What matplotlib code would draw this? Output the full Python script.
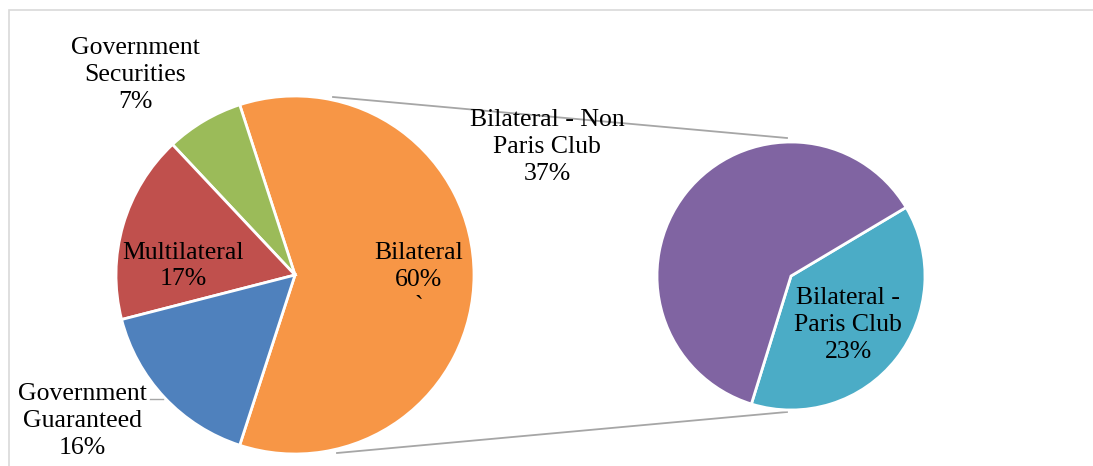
import matplotlib.pyplot as plt
from matplotlib.patches import Rectangle

# left pie: main categories (share of total debt, %)
main_labels = ["Bilateral", "Government\nSecurities", "Multilateral", "Government\nGuaranteed"]
main_values = [60, 7, 17, 16]
main_colors = ["#F79646", "#9BBB59", "#C0504D", "#4F81BD"]

# right pie: breakdown of bilateral
sub_labels = ["Bilateral -\nParis Club", "Bilateral - Non\nParis Club"]
sub_values = [23, 37]
sub_colors = ["#4BACC6", "#8064A2"]

W, H = 1093, 466
fig = plt.figure(figsize=(W / 100, H / 100), dpi=100)
ax = fig.add_axes([0, 0, 1, 1])

FONT = dict(family="Liberation Serif", fontsize=18.5, color="black",
            ha="center", va="center", linespacing=1.27)


def py(y):
    # pixel row (from top) -> data y
    return H - y


c1, r1 = (295, py(275)), 179
c2, r2 = (791, py(276)), 134

wedge_kw = dict(edgecolor="white", linewidth=2.0)
ax.pie(main_values, colors=main_colors, startangle=-108, counterclock=True,
       center=c1, radius=r1, wedgeprops=wedge_kw, frame=True)
ax.pie(sub_values, colors=sub_colors, startangle=-107.2, counterclock=True,
       center=c2, radius=r2, wedgeprops=wedge_kw, frame=True)
ax.set_xlim(0, W)
ax.set_ylim(0, H)
ax.set_aspect("equal")
ax.axis("off")

# chart-area border
ax.add_patch(Rectangle((9, -5), W, H - 10 + 5, fill=False, ec="#D9D9D9", lw=1.2))

# connector lines
ax.plot([333, 787], [py(97), py(138)], color="#A6A6A6", lw=1.3, zorder=0)
ax.plot([337, 787], [py(453), py(412)], color="#A6A6A6", lw=1.3, zorder=0)
# leader for Government Guaranteed
ax.plot([150, 163], [py(399), py(399)], color="#A6A6A6", lw=1.0)

pct = [f"{v}%" for v in main_values]
ax.text(135, py(75), f"{main_labels[1]}\n{pct[1]}", **FONT)
ax.text(183, py(266), f"{main_labels[2]}\n{pct[2]}", **FONT)
ax.text(419, py(280), f"{main_labels[0]}\n{pct[0]}\n`", **FONT)
ax.text(82, py(421), f"{main_labels[3]}\n{pct[3]}", **FONT)
ax.text(547, py(147), f"{sub_labels[1]}\n{sub_values[1]}%", **FONT)
ax.text(848, py(325), f"{sub_labels[0]}\n{sub_values[0]}%", **FONT)

fig.savefig("out.png", dpi=100)
